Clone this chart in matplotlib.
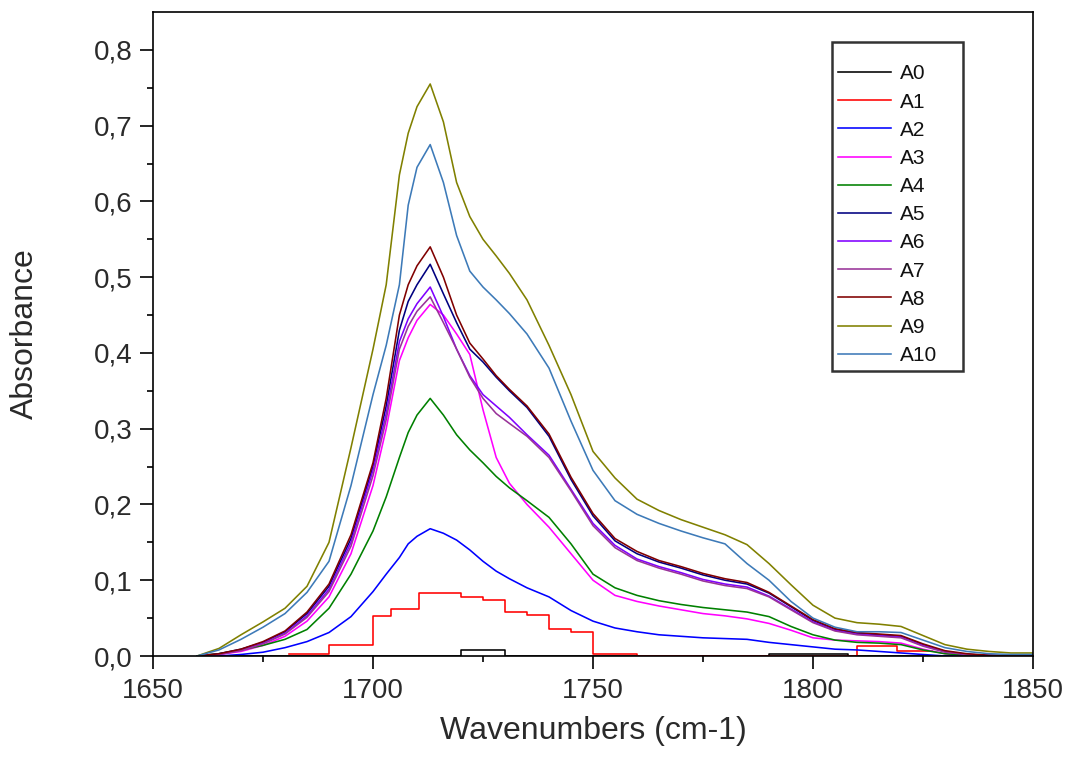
import matplotlib
matplotlib.use("Agg")
import matplotlib.pyplot as plt
from matplotlib.ticker import FixedLocator, FixedFormatter
import numpy as np

plt.rcParams['font.family'] = ['Liberation Sans', 'DejaVu Sans']

# ---------------- data ----------------
wn = [1660, 1665, 1670, 1675, 1680, 1685, 1690, 1695, 1700, 1703, 1706, 1708,
      1710, 1713, 1716, 1719, 1722, 1725, 1728, 1731, 1735, 1740, 1745, 1750,
      1755, 1760, 1765, 1770, 1775, 1780, 1785, 1790, 1795, 1800, 1805, 1810,
      1815, 1820, 1825, 1830, 1835, 1840, 1845, 1850]

A2 = [0.000, 0.000, 0.002, 0.005, 0.011, 0.019, 0.031, 0.052, 0.085, 0.108, 0.130, 0.148,
      0.158, 0.168, 0.162, 0.153, 0.140, 0.125, 0.112, 0.102, 0.090, 0.078, 0.060, 0.046,
      0.037, 0.032, 0.028, 0.026, 0.024, 0.023, 0.022, 0.018, 0.015, 0.012, 0.009, 0.008,
      0.006, 0.004, 0.002, 0.000, 0.000, 0.000, 0.000, 0.000]
A3 = [0.000, 0.002, 0.006, 0.014, 0.026, 0.046, 0.078, 0.135, 0.225, 0.300, 0.390, 0.420,
      0.443, 0.464, 0.450, 0.425, 0.398, 0.325, 0.262, 0.228, 0.200, 0.170, 0.135, 0.100,
      0.080, 0.072, 0.066, 0.061, 0.056, 0.053, 0.049, 0.043, 0.034, 0.024, 0.021, 0.020,
      0.019, 0.017, 0.009, 0.003, 0.001, 0.000, 0.000, 0.000]
A4 = [0.000, 0.003, 0.008, 0.014, 0.022, 0.035, 0.063, 0.108, 0.165, 0.210, 0.262, 0.295,
      0.318, 0.340, 0.318, 0.292, 0.272, 0.255, 0.237, 0.222, 0.205, 0.183, 0.148, 0.108,
      0.090, 0.080, 0.073, 0.068, 0.064, 0.061, 0.058, 0.052, 0.039, 0.028, 0.021, 0.018,
      0.017, 0.015, 0.008, 0.003, 0.001, 0.000, 0.000, 0.000]
A5 = [0.000, 0.003, 0.009, 0.018, 0.032, 0.056, 0.092, 0.155, 0.250, 0.330, 0.430, 0.468,
      0.490, 0.517, 0.478, 0.440, 0.405, 0.388, 0.368, 0.350, 0.328, 0.290, 0.233, 0.185,
      0.152, 0.135, 0.124, 0.116, 0.107, 0.100, 0.095, 0.083, 0.065, 0.047, 0.035, 0.030,
      0.028, 0.026, 0.015, 0.006, 0.002, 0.001, 0.000, 0.000]
A6 = [0.000, 0.002, 0.008, 0.017, 0.030, 0.053, 0.088, 0.150, 0.245, 0.320, 0.415, 0.445,
      0.465, 0.487, 0.448, 0.405, 0.370, 0.345, 0.330, 0.315, 0.292, 0.265, 0.220, 0.175,
      0.146, 0.128, 0.118, 0.110, 0.101, 0.095, 0.091, 0.079, 0.062, 0.045, 0.034, 0.029,
      0.027, 0.025, 0.014, 0.006, 0.002, 0.001, 0.000, 0.000]
A7 = [0.000, 0.002, 0.007, 0.016, 0.029, 0.051, 0.085, 0.145, 0.238, 0.312, 0.405, 0.435,
      0.455, 0.474, 0.440, 0.405, 0.368, 0.340, 0.320, 0.307, 0.290, 0.262, 0.218, 0.172,
      0.143, 0.126, 0.116, 0.108, 0.099, 0.093, 0.089, 0.078, 0.061, 0.044, 0.033, 0.028,
      0.026, 0.024, 0.013, 0.005, 0.002, 0.000, 0.000, 0.000]
A8 = [0.000, 0.003, 0.009, 0.019, 0.033, 0.058, 0.095, 0.160, 0.255, 0.340, 0.450, 0.490,
      0.515, 0.540, 0.500, 0.450, 0.413, 0.392, 0.370, 0.352, 0.330, 0.293, 0.236, 0.188,
      0.155, 0.138, 0.126, 0.118, 0.109, 0.102, 0.097, 0.084, 0.066, 0.048, 0.036, 0.031,
      0.029, 0.027, 0.016, 0.007, 0.003, 0.001, 0.000, 0.000]
A9 = [0.000, 0.010, 0.028, 0.045, 0.063, 0.092, 0.150, 0.275, 0.405, 0.490, 0.635, 0.690,
      0.725, 0.755, 0.705, 0.625, 0.580, 0.550, 0.528, 0.505, 0.470, 0.410, 0.345, 0.270,
      0.235, 0.207, 0.192, 0.180, 0.170, 0.160, 0.147, 0.122, 0.094, 0.067, 0.050, 0.044,
      0.042, 0.039, 0.027, 0.015, 0.009, 0.006, 0.004, 0.004]
A10 = [0.000, 0.008, 0.022, 0.038, 0.056, 0.084, 0.125, 0.225, 0.345, 0.410, 0.490, 0.595,
       0.645, 0.675, 0.625, 0.555, 0.508, 0.487, 0.470, 0.452, 0.425, 0.380, 0.310, 0.245,
       0.205, 0.187, 0.175, 0.165, 0.156, 0.148, 0.122, 0.100, 0.072, 0.050, 0.038, 0.032,
       0.032, 0.031, 0.021, 0.011, 0.006, 0.003, 0.002, 0.002]

# step-like series (bin edges and bin values)
A0_edges = [1660, 1720, 1730, 1790, 1808, 1850]
A0_vals = [0.000, 0.008, 0.000, 0.003, 0.000]
A1_edges = [1681, 1690, 1700, 1704, 1710.5, 1720, 1725, 1730, 1735, 1740, 1745, 1750,
            1760, 1810, 1819, 1827]
A1_vals = [0.003, 0.015, 0.053, 0.062, 0.083, 0.078, 0.074, 0.058, 0.054, 0.036, 0.032,
           0.003, 0.000, 0.013, 0.006]

labels = ['A0', 'A1', 'A2', 'A3', 'A4', 'A5', 'A6', 'A7', 'A8', 'A9', 'A10']
colors = ['#000000', '#FF0000', '#0000FF', '#FF00FF', '#008000', '#000080',
          '#8000FF', '#993399', '#800000', '#808000', '#3D7AB8']

x_ticks = [1650, 1700, 1750, 1800, 1850]
x_minor = [1675, 1725, 1775, 1825]
y_ticks = [0.0, 0.1, 0.2, 0.3, 0.4, 0.5, 0.6, 0.7, 0.8]
y_minor = [0.05, 0.15, 0.25, 0.35, 0.45, 0.55, 0.65, 0.75]
y_tick_labels = ['0,0', '0,1', '0,2', '0,3', '0,4', '0,5', '0,6', '0,7', '0,8']

# ---------------- figure ----------------
fig = plt.figure(figsize=(10.71, 7.58), dpi=100)
ax = fig.add_axes([153 / 1071, 1 - 656 / 758, 880 / 1071, 644 / 758])

lw = 1.15
ax.plot(A0_edges, A0_vals + [A0_vals[-1]], drawstyle='steps-post',
        color=colors[0], lw=lw, label=labels[0])
ax.plot(A1_edges, A1_vals + [A1_vals[-1]], drawstyle='steps-post',
        color=colors[1], lw=lw, label=labels[1])
series = [A2, A3, A4, A5, A6, A7, A8, A9, A10]
for i, s in enumerate(series):
    ax.plot(wn, s, color=colors[i + 2], lw=lw, label=labels[i + 2])

ax.set_xlim(1650, 1850)
ax.set_ylim(0, 0.85)

ax.xaxis.set_major_locator(FixedLocator(x_ticks))
ax.xaxis.set_minor_locator(FixedLocator(x_minor))
ax.yaxis.set_major_locator(FixedLocator(y_ticks))
ax.yaxis.set_major_formatter(FixedFormatter(y_tick_labels))
ax.yaxis.set_minor_locator(FixedLocator(y_minor))

for sp in ax.spines.values():
    sp.set_linewidth(1.2)

ax.tick_params(axis='both', which='major', direction='out', length=9.5, width=1.2,
               labelsize=20, labelcolor='#2a2a2a', top=False, right=False)
ax.tick_params(axis='x', which='major', pad=6)
ax.tick_params(axis='y', which='major', pad=5)
ax.tick_params(axis='both', which='minor', direction='out', length=4.5, width=1.2,
               top=False, right=False)

ax.set_xlabel('Wavenumbers (cm-1)', fontsize=23, color='#2a2a2a')
ax.set_ylabel('Absorbance', fontsize=23, color='#2a2a2a')
ax.xaxis.set_label_coords(0.5, -0.093)
ax.yaxis.set_label_coords(-0.128, 0.5)

leg = ax.legend(loc='upper left',
                bbox_to_anchor=(832 / 1071, 1 - 370 / 758, 131 / 1071, 328 / 758),
                bbox_transform=fig.transFigure, borderaxespad=0, mode='expand',
                fontsize=15, handlelength=2.55, handletextpad=0.4,
                labelspacing=0.44, borderpad=0.3, frameon=True, fancybox=False,
                title=' ', title_fontsize=6)
leg.get_frame().set_edgecolor('black')
leg.get_frame().set_linewidth(1.8)
for t in leg.get_texts():
    t.set_color('#111111')

fig.savefig('out.png', dpi=100)
